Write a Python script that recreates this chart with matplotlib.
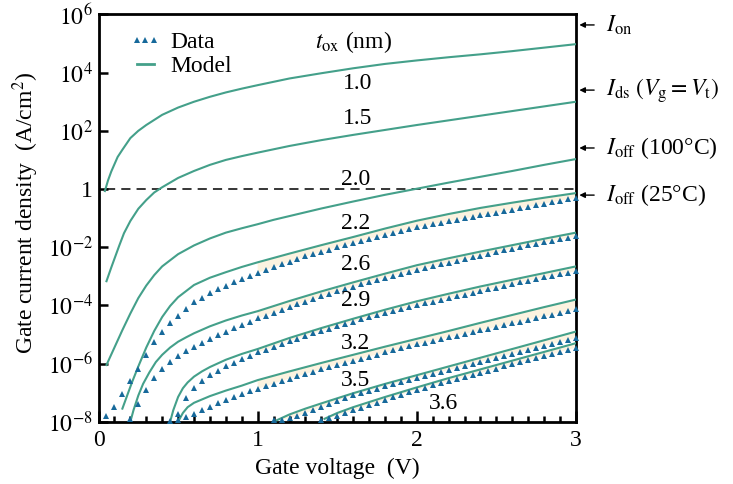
import numpy as np
import matplotlib
matplotlib.use("Agg")
import matplotlib.pyplot as plt
from matplotlib.lines import Line2D

# ---------------- data (log10 of gate current density, A/cm^2) ----------------
tox_labels = ["1.0", "1.5", "2.0", "2.2", "2.6", "2.9", "3.2", "3.5", "3.6"]

# Model curves
V_m10 = [0.04, 0.06, 0.08, 0.10, 0.12, 0.15, 0.20, 0.25, 0.30, 0.40, 0.50, 0.60, 0.70,
         0.80, 0.90, 1.00, 1.20, 1.40, 1.60, 1.80, 2.00, 2.20, 2.40, 2.60, 2.80, 3.00]
L_m10 = [-0.07, 0.30, 0.60, 0.85, 1.10, 1.35, 1.75, 2.00, 2.20, 2.55, 2.80, 3.00, 3.17,
         3.32, 3.45, 3.57, 3.80, 3.98, 4.15, 4.30, 4.42, 4.53, 4.63, 4.74, 4.86, 4.98]

V_m15 = [0.05, 0.08, 0.10, 0.13, 0.16, 0.20, 0.25, 0.30, 0.35, 0.40, 0.50, 0.60, 0.70,
         0.80, 0.90, 1.00, 1.20, 1.40, 1.60, 1.80, 2.00, 2.20, 2.40, 2.60, 2.80, 3.00]
L_m15 = [-3.17, -2.70, -2.40, -1.95, -1.52, -1.10, -0.68, -0.38, -0.12, 0.06, 0.38, 0.62, 0.83,
         1.00, 1.13, 1.25, 1.48, 1.68, 1.86, 2.03, 2.20, 2.36, 2.52, 2.68, 2.84, 3.00]

V_m20 = [0.05, 0.10, 0.15, 0.20, 0.25, 0.30, 0.35, 0.40, 0.50, 0.60, 0.70, 0.80, 0.90,
         1.00, 1.10, 1.20, 1.40, 1.60, 1.80, 2.00, 2.20, 2.40, 2.60, 2.80, 3.00]
L_m20 = [-6.05, -5.45, -4.85, -4.28, -3.75, -3.32, -2.96, -2.66, -2.24, -1.94, -1.70, -1.50, -1.35,
         -1.21, -1.06, -0.93, -0.67, -0.43, -0.20, 0.01, 0.22, 0.42, 0.62, 0.83, 1.03]

V_m22 = [0.15, 0.18, 0.21, 0.25, 0.30, 0.35, 0.40, 0.45, 0.50, 0.60, 0.70, 0.80, 0.90,
         1.00, 1.20, 1.40, 1.60, 1.80, 2.00, 2.20, 2.40, 2.60, 2.80, 3.00]
L_m22 = [-7.55, -7.10, -6.65, -6.10, -5.45, -4.88, -4.40, -4.02, -3.72, -3.30, -3.05, -2.86, -2.68,
         -2.52, -2.22, -1.93, -1.65, -1.36, -1.09, -0.86, -0.65, -0.47, -0.30, -0.14]

V_m26 = [0.20, 0.22, 0.25, 0.28, 0.32, 0.36, 0.40, 0.45, 0.50, 0.55, 0.60, 0.70, 0.80,
         0.90, 1.00, 1.20, 1.40, 1.60, 1.80, 2.00, 2.20, 2.40, 2.60, 2.80, 3.00]
L_m26 = [-8.00, -7.60, -7.10, -6.70, -6.30, -5.95, -5.70, -5.45, -5.25, -5.10, -4.96, -4.72, -4.52,
         -4.35, -4.20, -3.85, -3.52, -3.21, -2.91, -2.62, -2.38, -2.15, -1.93, -1.71, -1.50]

V_m29 = [0.45, 0.47, 0.50, 0.53, 0.56, 0.60, 0.65, 0.70, 0.80, 0.90, 1.00, 1.20, 1.40,
         1.60, 1.80, 2.00, 2.20, 2.40, 2.60, 2.80, 3.00]
L_m29 = [-8.00, -7.60, -7.15, -6.85, -6.65, -6.45, -6.27, -6.12, -5.87, -5.67, -5.50, -5.12, -4.78,
         -4.46, -4.15, -3.86, -3.60, -3.35, -3.12, -2.89, -2.66]

V_m32 = [0.50, 0.53, 0.56, 0.60, 0.70, 0.80, 0.90, 1.00, 1.20, 1.40, 1.60, 1.80, 2.00,
         2.20, 2.40, 2.60, 2.80, 3.00]
L_m32 = [-8.00, -7.70, -7.50, -7.35, -7.12, -6.93, -6.76, -6.57, -6.27, -5.98, -5.70, -5.42, -5.15,
         -4.88, -4.60, -4.33, -4.06, -3.80]

V_m35 = [1.12, 1.20, 1.30, 1.40, 1.60, 1.80, 2.00, 2.20, 2.40, 2.60, 2.80, 3.00]
L_m35 = [-7.95, -7.75, -7.55, -7.37, -7.02, -6.70, -6.40, -6.10, -5.80, -5.50, -5.20, -4.90]

V_m36 = [1.42, 1.50, 1.60, 1.80, 2.00, 2.20, 2.40, 2.60, 2.80, 3.00]
L_m36 = [-7.90, -7.70, -7.50, -7.15, -6.82, -6.50, -6.20, -5.90, -5.60, -5.30]

# Measured data (triangles), one point every 0.05 V from the first voltage to 3.0 V
V0_d22, L_d22 = 0.05, [
    -7.80, -7.48, -7.05, -6.60, -6.18, -5.70, -5.25, -4.90, -4.62, -4.38,
    -4.12, -3.90, -3.73, -3.58, -3.45, -3.33, -3.21, -3.10, -2.99, -2.88,
    -2.78, -2.68, -2.59, -2.50, -2.41, -2.32, -2.24, -2.16, -2.08, -2.00,
    -1.92, -1.85, -1.78, -1.71, -1.64, -1.57, -1.50, -1.44, -1.38, -1.32,
    -1.26, -1.21, -1.16, -1.11, -1.06, -1.01, -0.96, -0.91, -0.86, -0.81,
    -0.76, -0.71, -0.66, -0.61, -0.56, -0.50, -0.45, -0.40, -0.35, -0.30]
V0_d26, L_d26 = 0.20, [
    -7.90, -7.40, -6.90, -6.50, -6.20, -5.95, -5.75, -5.58, -5.43, -5.29,
    -5.16, -5.03, -4.91, -4.79, -4.67, -4.56, -4.45, -4.35, -4.25, -4.15,
    -4.05, -3.96, -3.87, -3.78, -3.69, -3.60, -3.52, -3.44, -3.36, -3.28,
    -3.20, -3.12, -3.05, -2.98, -2.91, -2.84, -2.77, -2.71, -2.65, -2.59,
    -2.53, -2.47, -2.41, -2.35, -2.29, -2.23, -2.17, -2.11, -2.05, -1.99,
    -1.94, -1.88, -1.83, -1.78, -1.73, -1.68, -1.63]
V0_d29, L_d29 = 0.50, [
    -7.75, -7.20, -6.85, -6.60, -6.40, -6.24, -6.10, -5.97, -5.85, -5.73,
    -5.62, -5.52, -5.42, -5.32, -5.23, -5.14, -5.05, -4.96, -4.88, -4.80,
    -4.72, -4.64, -4.56, -4.48, -4.41, -4.34, -4.27, -4.20, -4.13, -4.06,
    -3.99, -3.93, -3.87, -3.81, -3.75, -3.69, -3.63, -3.57, -3.51, -3.45,
    -3.39, -3.33, -3.27, -3.21, -3.15, -3.09, -3.03, -2.98, -2.93, -2.88,
    -2.83]
V0_d32, L_d32 = 0.45, [
    -7.97, -7.93, -7.85, -7.72, -7.60, -7.48, -7.37, -7.26, -7.16, -7.06, -6.96,
    -6.87, -6.78, -6.69, -6.60, -6.52, -6.44, -6.36, -6.28, -6.20, -6.12,
    -6.04, -5.97, -5.90, -5.83, -5.76, -5.69, -5.62, -5.55, -5.48, -5.41,
    -5.34, -5.28, -5.22, -5.16, -5.10, -5.04, -4.98, -4.92, -4.86, -4.80,
    -4.74, -4.68, -4.62, -4.56, -4.50, -4.44, -4.38, -4.32, -4.26, -4.20,
    -4.14]
V0_d35, L_d35 = 1.10, [
    -7.95, -7.93, -7.88, -7.80, -7.71, -7.60, -7.50, -7.39, -7.28, -7.18,
    -7.08, -7.00, -6.93, -6.86, -6.78, -6.71, -6.64, -6.57, -6.50, -6.43,
    -6.36, -6.29, -6.22, -6.15, -6.08, -6.01, -5.94, -5.87, -5.80, -5.73,
    -5.66, -5.60, -5.53, -5.46, -5.39, -5.32, -5.26, -5.19, -5.12]
V0_d36, L_d36 = 1.40, [
    -7.95, -7.87, -7.79, -7.70, -7.61, -7.52, -7.43, -7.34, -7.25, -7.16, -7.07, -6.98,
    -6.90, -6.83, -6.75, -6.68, -6.61, -6.54, -6.47, -6.39, -6.32, -6.25,
    -6.18, -6.10, -6.03, -5.96, -5.89, -5.81, -5.74, -5.67, -5.60, -5.52, -5.45]

# axis ticks
y_tick_exp = [-8, -6, -4, -2, 0, 2, 4, 6]
y_tick_labels = [r"$10^{-8}$", r"$10^{-6}$", r"$10^{-4}$", r"$10^{-2}$", "1",
                 r"$10^{2}$", r"$10^{4}$", r"$10^{6}$"]
x_ticks = [0, 1, 2, 3]

# right-hand annotations (label, log10 level)
side_labels = [r"$I_{\rm on}$", r"$I_{\rm ds}\ (V_{\rm g} = V_{\rm t})$",
               r"$I_{\rm off}$ (100°C)", r"$I_{\rm off}$ (25°C)"]
side_levels = [5.64, 3.40, 1.41, -0.21]

# ---------------- style ----------------
plt.rcParams["font.family"] = ["Liberation Serif", "DejaVu Serif"]
plt.rcParams["mathtext.fontset"] = "stix"
FS = 17
MODEL_C = "#44a08a"
DATA_C = "#17699b"
FILL_C = "#fcf3e0"

fig = plt.figure(figsize=(7.33, 4.84), dpi=100)
ax = fig.add_axes([0.1344, 0.1287, 0.6514, 0.8414])

def dgrid(v0, vals):
    return np.round(v0 + 0.05 * np.arange(len(vals)), 2)

models = [(V_m10, L_m10), (V_m15, L_m15), (V_m20, L_m20), (V_m22, L_m22),
          (V_m26, L_m26), (V_m29, L_m29), (V_m32, L_m32), (V_m35, L_m35), (V_m36, L_m36)]
datas = [None, None, None, (V0_d22, L_d22), (V0_d26, L_d26), (V0_d29, L_d29),
         (V0_d32, L_d32), (V0_d35, L_d35), (V0_d36, L_d36)]

for (vm, lm), d in zip(models, datas):
    vm = np.array(vm)
    jm = 10.0 ** np.array(lm)
    if d is not None:
        vd = dgrid(*d)
        jd = 10.0 ** np.array(d[1])
        # light shading between model and data (V >= 1)
        mm = vm >= 1.0
        md = vd >= 1.0
        px = np.concatenate([vm[mm], vd[md][::-1]])
        py = np.concatenate([jm[mm], jd[md][::-1]])
        ax.fill(px, py, color=FILL_C, lw=0, zorder=1)
    ax.plot(vm, jm, color=MODEL_C, lw=1.5, zorder=3)
    if d is not None:
        ax.plot(vd, jd, ls="none", marker="^", ms=5, color=DATA_C,
                markeredgewidth=0, zorder=4, clip_on=False)

# dashed reference line at 1 A/cm^2
ax.plot([0.05, 3.0], [1.0, 1.0], color="k", lw=1.1, dashes=(6, 4), zorder=2)

ax.set_yscale("log")
ax.set_xlim(0, 3)
ax.set_ylim(1e-8, 1e6)
ax.set_yticks([10.0 ** e for e in y_tick_exp])
ax.set_yticklabels(y_tick_labels)
ax.yaxis.set_minor_locator(matplotlib.ticker.NullLocator())
ax.set_xticks(x_ticks)
ax.set_xticklabels([str(t) for t in x_ticks])
ax.xaxis.set_minor_locator(matplotlib.ticker.MultipleLocator(0.1))

ax.tick_params(axis="both", which="both", direction="in", top=False, right=False,
               labelsize=FS, width=1.8)
ax.tick_params(axis="x", which="major", length=8, pad=6)
ax.tick_params(axis="x", which="minor", length=4.5)
ax.tick_params(axis="y", which="major", length=6.5, pad=4)
for s in ax.spines.values():
    s.set_linewidth(2.0)

ax.set_xlabel("Gate voltage  (V)", fontsize=FS)
ax.set_ylabel("Gate current density  (A/cm$^2$)", fontsize=FS)
ax.xaxis.set_label_coords(0.5, -0.088)
ax.yaxis.set_label_coords(-0.121, 0.512)

# legend
h_data = Line2D([], [], ls="none", marker="^", ms=5, color=DATA_C, markeredgewidth=0)
h_model = Line2D([], [], color=MODEL_C, lw=2.0)
ax.legend([h_data, h_model], ["Data", "Model"], loc="upper left",
          bbox_to_anchor=(0.066, 0.958), frameon=False, fontsize=FS,
          numpoints=3, handlelength=1.3, handletextpad=0.42, labelspacing=0.12,
          borderaxespad=0.0, borderpad=0.0)

# curve labels
label_pos = [(1.627, 3.61), (1.627, 2.44), (1.614, 0.31), (1.614, -1.2), (1.614, -2.58),
             (1.614, -3.85), (1.614, -5.30), (1.614, -6.60), (2.165, -7.36)]
for t, (x, ly) in zip(tox_labels, label_pos):
    ax.text(x, 10.0 ** ly, t, fontsize=FS, ha="center", va="center", zorder=5)
ax.text(1.362, 10.0 ** 5.05, r"$t_{\rm ox}$ (nm)", fontsize=FS, ha="left", va="center")

# right-hand arrows and labels
for lab, lv in zip(side_labels, side_levels):
    ax.annotate("", xy=(1.007, 10.0 ** lv), xytext=(1.038, 10.0 ** lv),
                xycoords=("axes fraction", "data"), textcoords=("axes fraction", "data"),
                arrowprops=dict(arrowstyle="-|>", color="k", lw=1.0, mutation_scale=8,
                                shrinkA=0, shrinkB=0), annotation_clip=False)
    ax.text(1.063, 10.0 ** lv, lab, fontsize=FS, ha="left", va="center",
            transform=ax.get_yaxis_transform(), clip_on=False)

fig.savefig("out.png", dpi=100)
